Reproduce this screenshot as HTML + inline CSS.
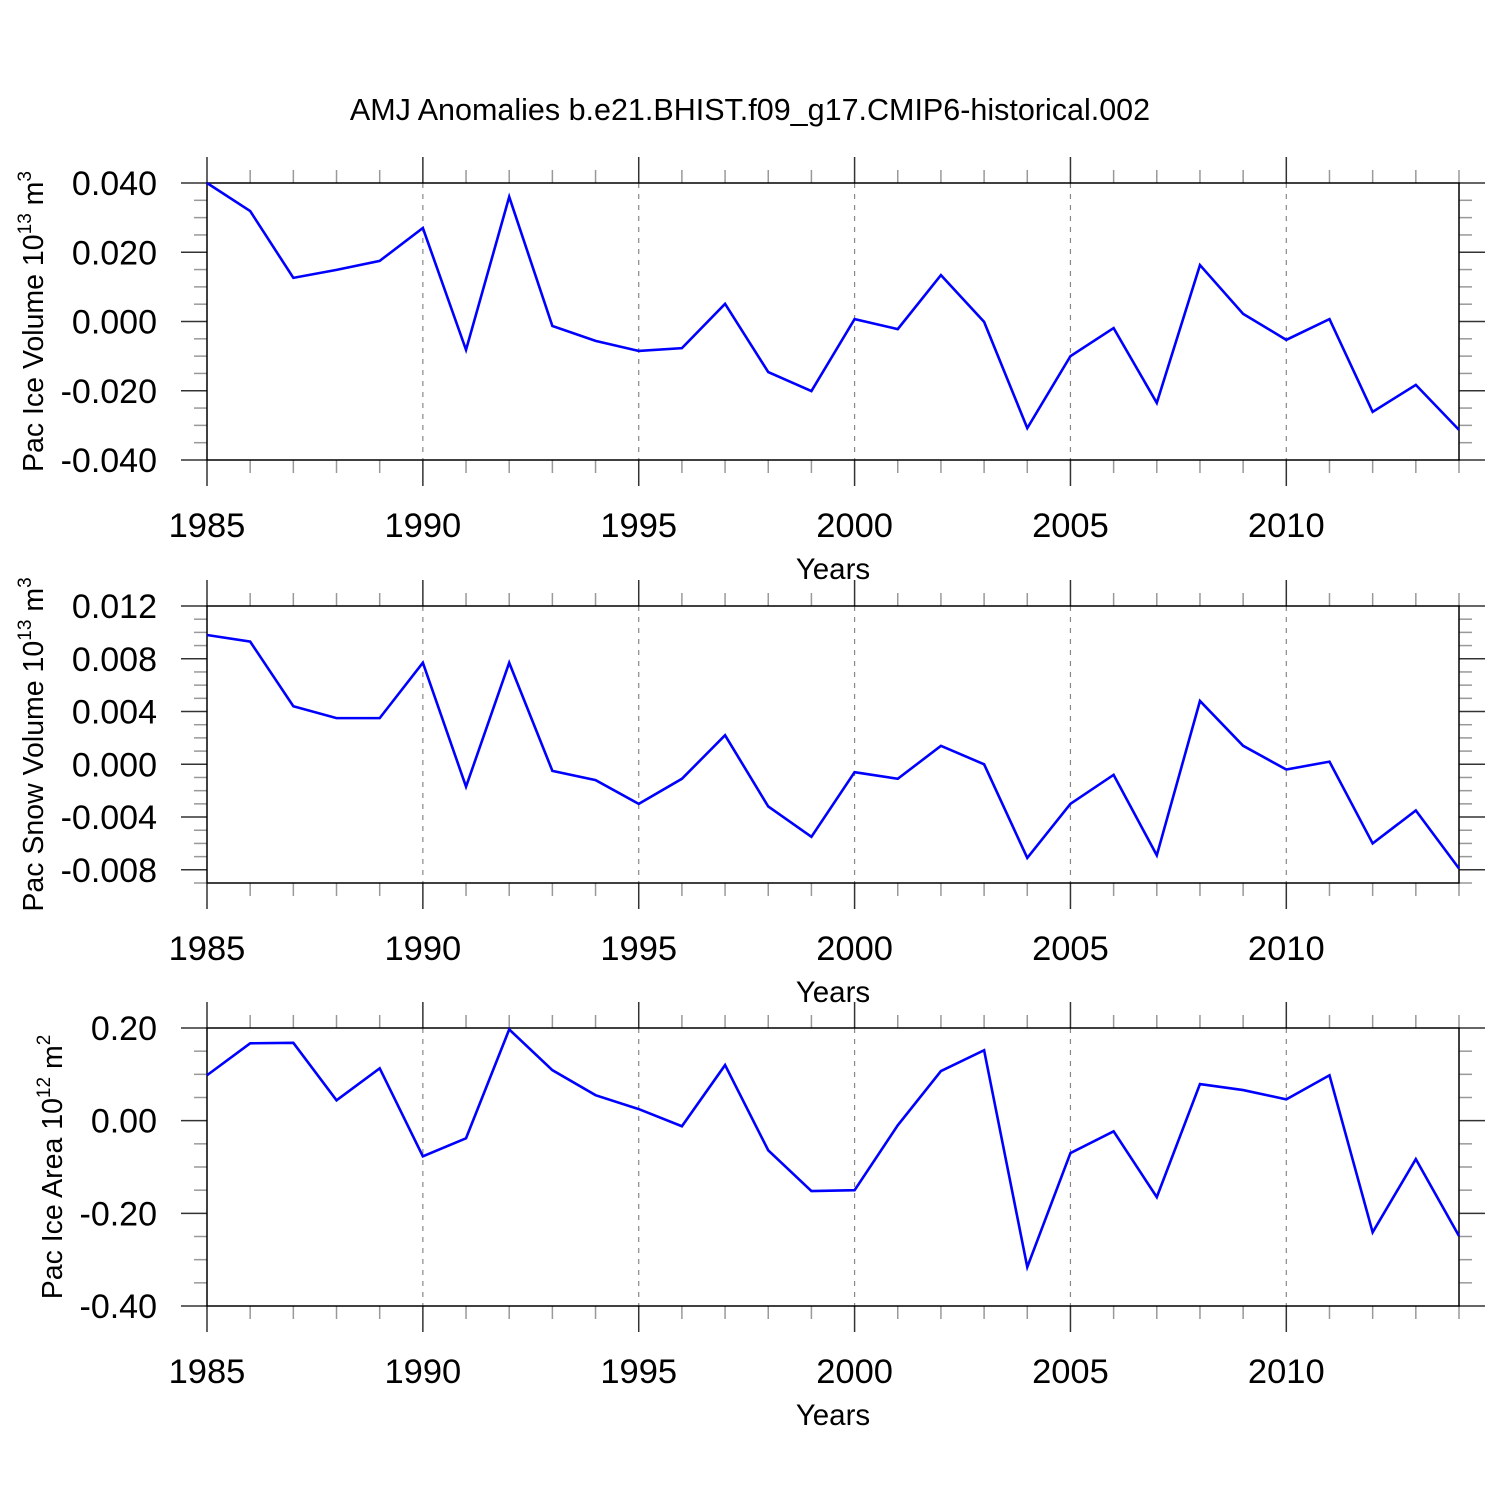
<!DOCTYPE html>
<html><head><meta charset="utf-8"><style>
html,body{margin:0;padding:0;background:#fff;}
svg{display:block;font-family:"Liberation Sans",Arial,sans-serif;}
</style></head><body>
<svg id="chart" width="1500" height="1500" viewBox="0 0 1500 1500">
<text x="750" y="120" font-size="30.5" text-anchor="middle">AMJ Anomalies b.e21.BHIST.f09_g17.CMIP6-historical.002</text>
</svg>
<script>
const years = [1985,1986,1987,1988,1989,1990,1991,1992,1993,1994,1995,1996,1997,1998,1999,2000,2001,2002,2003,2004,2005,2006,2007,2008,2009,2010,2011,2012,2013,2014];
const iceVolume = [0.040,0.0319,0.0126,0.0149,0.0175,0.027,-0.0082,0.036,-0.0013,-0.0056,-0.0085,-0.0077,0.0051,-0.0146,-0.0201,0.0007,-0.0022,0.0134,-0.0001,-0.0308,-0.010,-0.0019,-0.0235,0.0163,0.0022,-0.0053,0.0007,-0.0261,-0.0183,-0.0313];
const snowVolume = [0.0098,0.0093,0.0044,0.0035,0.0035,0.0077,-0.0017,0.0077,-0.0005,-0.0012,-0.0030,-0.0011,0.0022,-0.0032,-0.0055,-0.0006,-0.0011,0.0014,0.0,-0.0071,-0.003,-0.0008,-0.0069,0.0048,0.0014,-0.0004,0.0002,-0.006,-0.0035,-0.0079];
const iceArea = [0.098,0.167,0.168,0.044,0.113,-0.077,-0.038,0.197,0.109,0.055,0.025,-0.012,0.12,-0.064,-0.152,-0.15,-0.01,0.107,0.152,-0.316,-0.07,-0.023,-0.165,0.079,0.066,0.046,0.098,-0.241,-0.083,-0.249];
const xTickLabels = ["1985","1990","1995","2000","2005","2010"];
const iceVolTicks = ["0.040","0.020","0.000","-0.020","-0.040"];
const snowTicks = ["0.012","0.008","0.004","0.000","-0.004","-0.008"];
const areaTicks = ["0.20","0.00","-0.20","-0.40"];

const NS="http://www.w3.org/2000/svg";
const svg=document.getElementById('chart');
function mk(tag,attrs,parent){const e=document.createElementNS(NS,tag);for(const k in attrs)e.setAttribute(k,attrs[k]);(parent||svg).appendChild(e);return e;}
const X0=207,X1=1459;
const xs=y=>X0+(y-1985)/(2014-1985)*(X1-X0);

function panel(name,top,bot,ymin,ymax,ticks,major,minor,dec,data,titleParts,titleX){
  const g=mk('g',{});
  
  
  const ys=v=>bot-(v-ymin)/(ymax-ymin)*(bot-top);
  for(let yr=1990;yr<2014;yr+=5){
    const l=mk('line',{x1:xs(yr),x2:xs(yr),y1:top,y2:bot,stroke:'#888','stroke-width':1.2,'stroke-dasharray':'5,6'},g);
    
    
  }
  for(let yr=1985;yr<=2014;yr++){
    const len=(yr%5===0)?26:13, c=(yr%5===0)?'#333':'#999';
    mk('line',{x1:xs(yr),x2:xs(yr),y1:top-len,y2:top,stroke:c,'stroke-width':1.5},g);
    mk('line',{x1:xs(yr),x2:xs(yr),y1:bot,y2:bot+len,stroke:c,'stroke-width':1.5},g);
  }
  const eps=1e-9;
  for(let v=Math.ceil((ymin-eps)/minor)*minor; v<=ymax+eps; v+=minor){
    const isMaj=Math.abs(v/major-Math.round(v/major))<1e-6;
    const len=isMaj?26:13, c=isMaj?'#333':'#999';
    mk('line',{x1:X0-len,x2:X0,y1:ys(v),y2:ys(v),stroke:c,'stroke-width':1.5},g);
    mk('line',{x1:X1,x2:X1+len,y1:ys(v),y2:ys(v),stroke:c,'stroke-width':1.5},g);
  }
  const fr=mk('rect',{x:X0,y:top,width:X1-X0,height:bot-top,fill:'none',stroke:'#000','stroke-width':1.5},g);
  
  
  ticks.forEach(t=>{
    const tx=mk('text',{x:157,y:ys(parseFloat(t))+12,'font-size':34,'text-anchor':'end'},g);
    tx.textContent=t;
    
    
  });
  xTickLabels.forEach(t=>{
    const tx=mk('text',{x:xs(+t),y:bot+77,'font-size':34.5,'text-anchor':'middle'},g);
    tx.textContent=t;
    
    
  });
  const xt=mk('text',{x:833,y:bot+119,'font-size':29.5,'text-anchor':'middle'},g);
  xt.textContent='Years';
  
  
  const cy=(top+bot)/2;
  const yt=mk('text',{x:0,y:0,'font-size':28.5,'text-anchor':'middle',transform:`translate(${titleX},${cy}) rotate(-90)`},g);
  
  
  titleParts.forEach(p=>{
    const s=mk('tspan',{},yt);
    if(p.sup){s.setAttribute('font-size',19);s.setAttribute('dy',-12);}
    else if(p.after){s.setAttribute('dy',12);}
    s.textContent=p.t;
  });
  const pts=years.map((yr,i)=>xs(yr)+','+ys(data[i])).join(' ');
  const pl=mk('polyline',{points:pts,fill:'none',stroke:'#0000ff','stroke-width':2.6,'stroke-linejoin':'miter'},g);
  
  
}
panel('ice-volume',183,460,-0.04,0.04,iceVolTicks,0.02,0.005,3,iceVolume,
  [{t:'Pac Ice Volume 10'},{t:'13',sup:true},{t:' m',after:true},{t:'3',sup:true}],43);
panel('snow-volume',606,883,-0.009,0.012,snowTicks,0.004,0.001,3,snowVolume,
  [{t:'Pac Snow Volume 10'},{t:'13',sup:true},{t:' m',after:true},{t:'3',sup:true}],43);
panel('ice-area',1028,1306,-0.4,0.2,areaTicks,0.2,0.05,2,iceArea,
  [{t:'Pac Ice Area 10'},{t:'12',sup:true},{t:' m',after:true},{t:'2',sup:true}],62);
</script>
</body></html>
